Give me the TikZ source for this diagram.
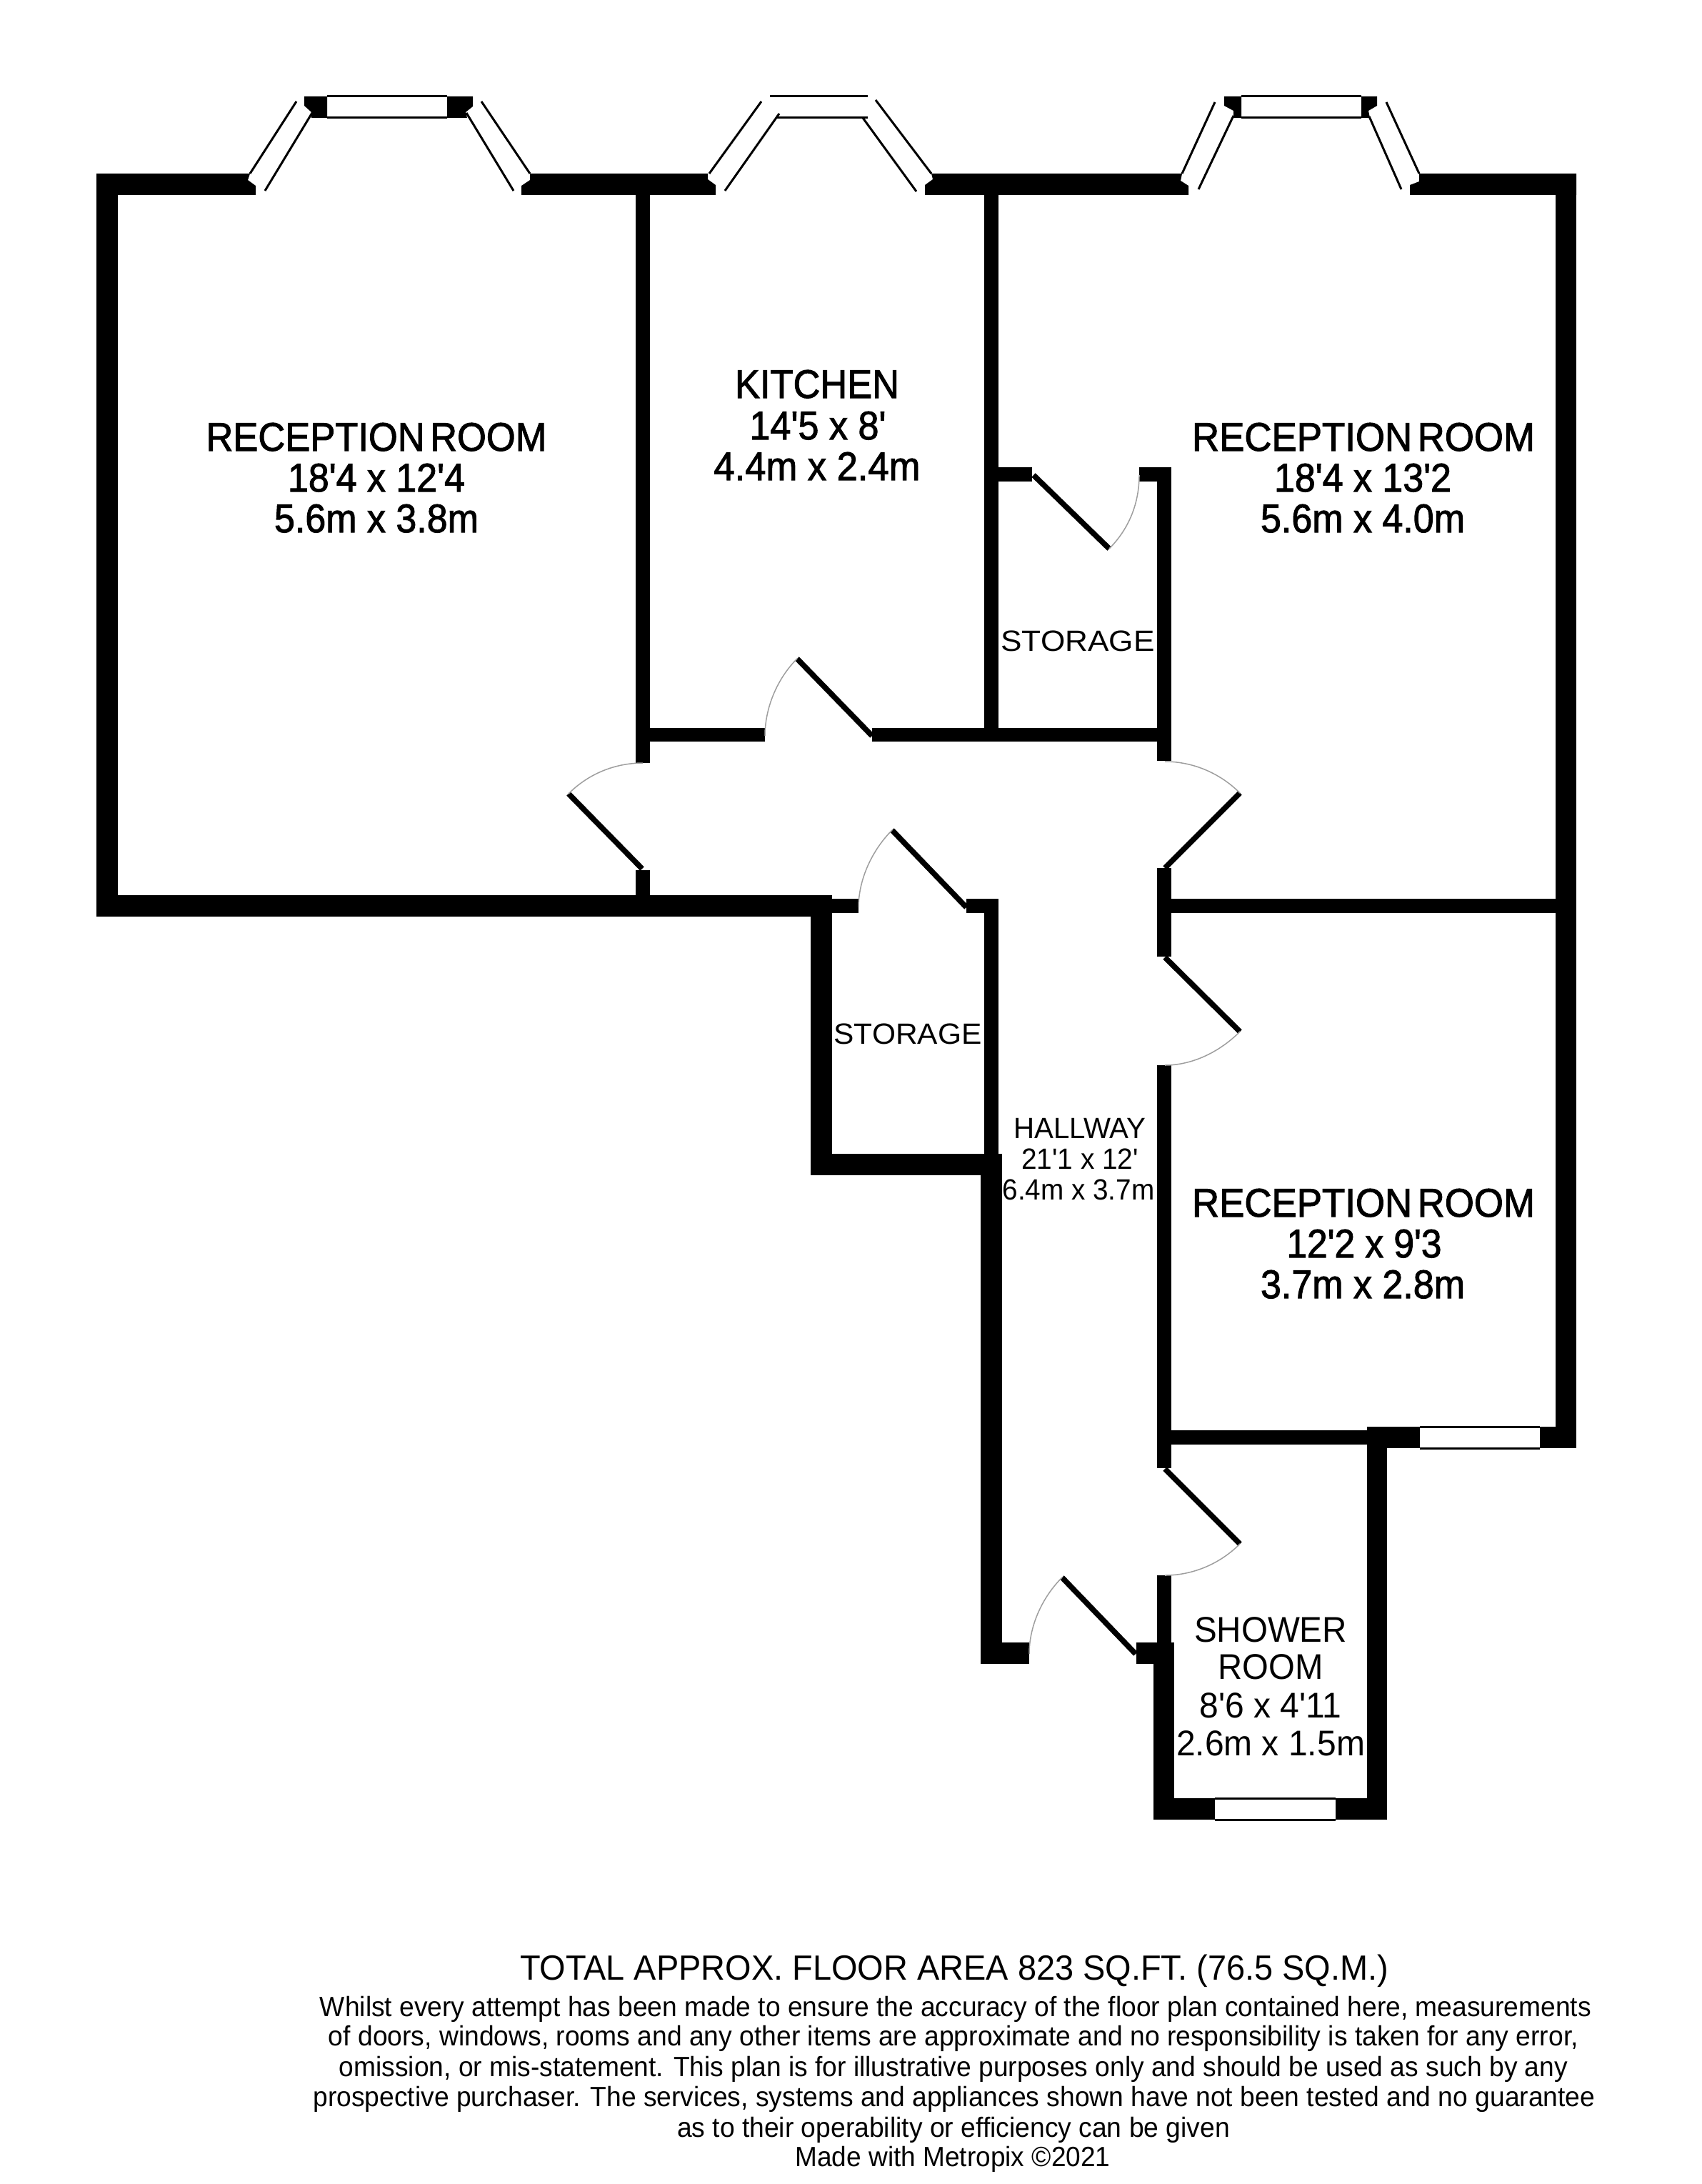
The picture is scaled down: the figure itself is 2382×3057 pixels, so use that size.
\documentclass[tikz,border=0pt]{standalone}
\usepackage{graphicx}
\usepackage{fontspec}
\setmainfont[Ligatures=TeXOff]{Liberation Sans}
\newfontfamily\heavyfont[Ligatures=TeXOff,FakeBold=1.8]{Liberation Sans}
\newdimen\pxu \pxu=0.3pt
\newcommand\fitw[2]{\resizebox{#1\pxu}{\height}{#2}}
\newcommand\recroom{RECEPTION\kern 2.4pt ROOM}
\tikzset{
  wall/.style={fill=black,draw=none},
  glass/.style={draw=black,line width=0.9pt,line cap=butt},
  leaf/.style={draw=black,line width=2.3pt,line cap=butt},
  swing/.style={draw=black!38,line width=0.45pt},
  lab/.style={anchor=base,inner sep=0pt,outer sep=0pt,text=black},
  lbig/.style={lab,font=\heavyfont\fontsize{16.8}{20}\selectfont},
  lmid/.style={lab,font=\fontsize{15}{18}\selectfont},
  lsmall/.style={lab,font=\fontsize{12.3}{15}\selectfont},
  ltitle/.style={lab,font=\fontsize{14.7}{18}\selectfont},
  lfoot/.style={lab,font=\fontsize{11.7}{14}\selectfont},
}
\begin{document}
\begin{tikzpicture}[x=0.3pt,y=-0.3pt]
\useasboundingbox (0,0) rectangle (2382,3057);
% outer and top walls
\fill[wall] (135,243) rectangle (165,1283);
\fill[wall] (135,243) -- (350,243) -- (347,252) -- (358,260) -- (358,273) -- (135,273) -- cycle;
\fill[wall] (742,243) -- (742,252) -- (730,260) -- (730,273) -- (1002,273) -- (1002,259) -- (991,251) -- (991,243) -- cycle;
\fill[wall] (1304,243) -- (1306,251) -- (1295,259) -- (1295,273) -- (1664,273) -- (1664,260) -- (1653,253) -- (1655,243) -- cycle;
\fill[wall] (1987,243) -- (1987,254) -- (1974,259) -- (1974,273) -- (2207,273) -- (2207,243) -- cycle;
\fill[wall] (2178,243) rectangle (2207,2027);
% kitchen and storage partitions
\fill[wall] (890,273) rectangle (910,1068);
\fill[wall] (890,1018.5) rectangle (1071,1038);
\fill[wall] (1221,1018.5) rectangle (1640,1038);
\fill[wall] (1378,273) rectangle (1398,1038);
\fill[wall] (1620,654) rectangle (1640,1065);
\fill[wall] (1378,654) rectangle (1445,674);
\fill[wall] (1595,654) rectangle (1640,674);
% lower wall of first reception room, storage 2
\fill[wall] (890,1217.5) rectangle (910,1253);
\fill[wall] (135,1253) rectangle (1165,1283);
\fill[wall] (1135,1253) rectangle (1165,1645);
\fill[wall] (1165,1258) rectangle (1202,1278);
\fill[wall] (1353,1258) rectangle (1398,1278);
\fill[wall] (1378,1258) rectangle (1398,1615);
\fill[wall] (1135,1615) rectangle (1403,1645);
% hallway
\fill[wall] (1373,1615) rectangle (1403,2329);
\fill[wall] (1373,2299) rectangle (1441,2329);
\fill[wall] (1591,2299) rectangle (1644,2329);
\fill[wall] (1620,1215) rectangle (1640,1339);
\fill[wall] (1620,1258) rectangle (2178,1278);
\fill[wall] (1620,1491) rectangle (1640,2055);
\fill[wall] (1620,2205) rectangle (1640,2299);
% shower room
\fill[wall] (1615,2299) rectangle (1644,2547);
\fill[wall] (1615,2517) rectangle (1701,2547);
\fill[wall] (1870,2517) rectangle (1942,2547);
\fill[wall] (1914,1997) rectangle (1942,2547);
\fill[wall] (1640,2002) rectangle (1914,2022);
\fill[wall] (1914,1997) rectangle (1988,2027);
\fill[wall] (2156,1997) rectangle (2207,2027);
% flat windows
\draw[glass] (1988,1997) -- (2156,1997) (1988,2027) -- (2156,2027);
\draw[glass] (1701,2517) -- (1870,2517) (1701,2547) -- (1870,2547);
% bay 1
\fill[wall] (426,135) -- (458,135) -- (458,165) -- (436,165) -- (436,157) -- (426,148) -- cycle;
\fill[wall] (626,135) -- (662,135) -- (662,149) -- (652,157) -- (654,165) -- (626,165) -- cycle;
\draw[glass] (458,135) -- (626,135) (458,165) -- (626,165);
\draw[glass] (350,243) -- (415,142) (371,267) -- (437,158);
\draw[glass] (674,142) -- (742,243) (653,158) -- (719,267);
% bay 2
\draw[glass] (1078,135) -- (1215,135) (1087,165) -- (1215,165);
\draw[glass] (993,243) -- (1066,142) (1015,267) -- (1091,159);
\draw[glass] (1226,140) -- (1304,243) (1208,165) -- (1283,268);
% bay 3
\fill[wall] (1714,135) -- (1738,135) -- (1738,165) -- (1727,165) -- (1727,155) -- (1714,148) -- cycle;
\fill[wall] (1906,135) -- (1928,135) -- (1928,148) -- (1916,155) -- (1918,165) -- (1906,165) -- cycle;
\draw[glass] (1738,135) -- (1906,135) (1738,165) -- (1906,165);
\draw[glass] (1655,243) -- (1701,143) (1678,265) -- (1727,162);
\draw[glass] (1941,143) -- (1987,243) (1917,163) -- (1962,265);
% doors
\draw[leaf] (1221,1030) -- (1116,922);
\draw[swing] (1116,922) .. controls (1088,950) and (1071,991) .. (1071,1030);
\draw[leaf] (899,1216) -- (796,1111);
\draw[swing] (796,1111) .. controls (824,1083) and (861,1068) .. (900,1068);
\draw[leaf] (1631,1215) -- (1736,1110);
\draw[swing] (1736,1110) .. controls (1708,1082) and (1670,1066) .. (1631,1066);
\draw[leaf] (1353,1270) -- (1249,1162);
\draw[swing] (1249,1162) .. controls (1221,1190) and (1202,1231) .. (1202,1270);
\draw[leaf] (1631,1340) -- (1736,1444);
\draw[swing] (1736,1444) .. controls (1708,1472) and (1670,1491) .. (1631,1491);
\draw[leaf] (1631,2056) -- (1736,2161);
\draw[swing] (1736,2161) .. controls (1708,2189) and (1670,2205) .. (1631,2205);
\draw[leaf] (1590,2315) -- (1487,2208);
\draw[swing] (1487,2208) .. controls (1459,2236) and (1441,2276) .. (1441,2315);
\draw[leaf] (1447,665) -- (1553,768);
\draw[swing] (1553,768) .. controls (1581,740) and (1595,704) .. (1595,665);
% room labels
\node (ra1) [lbig] at (527,631) {\fitw{477}{\recroom}};
\node (ra2) [lbig] at (527,688) {\fitw{248}{18'4 x 12'4}};
\node (ra3) [lbig] at (527,745) {\fitw{286}{5.6m x 3.8m}};
\node (ka1) [lbig] at (1144,557) {\fitw{230}{KITCHEN}};
\node (ka2) [lbig] at (1145,615) {\fitw{191}{14'5 x 8'}};
\node (ka3) [lbig] at (1144,672) {\fitw{289}{4.4m x 2.4m}};
\node (rb1) [lbig] at (1909,631) {\fitw{480}{\recroom}};
\node (rb2) [lbig] at (1908,688) {\fitw{248}{18'4 x 13'2}};
\node (rb3) [lbig] at (1908,745) {\fitw{286}{5.6m x 4.0m}};
\node (rc1) [lbig] at (1909,1703) {\fitw{480}{\recroom}};
\node (rc2) [lbig] at (1910,1760) {\fitw{217}{12'2 x 9'3}};
\node (rc3) [lbig] at (1908,1817) {\fitw{286}{3.7m x 2.8m}};
\node (st1) [lsmall] at (1509,911) {\fitw{215}{STORAGE}};
\node (st2) [lsmall] at (1271,1461) {\fitw{207}{STORAGE}};
\node (ha1) [lsmall] at (1512,1593) {\fitw{185}{HALLWAY}};
\node (ha2) [lsmall] at (1512,1636) {\fitw{164}{21'1 x 12'}};
\node (ha3) [lsmall] at (1510,1679) {\fitw{213}{6.4m x 3.7m}};
\node (sh1) [lmid] at (1779,2298) {\fitw{214}{SHOWER}};
\node (sh2) [lmid] at (1779,2350) {\fitw{147}{ROOM}};
\node (sh3) [lmid] at (1779,2404) {\fitw{199}{8'6 x 4'11}};
\node (sh4) [lmid] at (1779,2457) {\fitw{264}{2.6m x 1.5m}};
% footer
\node (ft0) [ltitle] at (1336,2771) {\fitw{1216}{TOTAL APPROX. FLOOR AREA 823 SQ.FT. (76.5 SQ.M.)}};
\node (ft1) [lfoot] at (1338,2822) {\fitw{1780}{Whilst every attempt has been made to ensure the accuracy of the floor plan contained here, measurements}};
\node (ft2) [lfoot] at (1335,2863) {\fitw{1750}{of doors, windows, rooms and any other items are approximate and no responsibility is taken for any error,}};
\node (ft3) [lfoot] at (1335,2906) {\fitw{1720}{omission, or mis-statement. This plan is for illustrative purposes only and should be used as such by any}};
\node (ft4) [lfoot] at (1336,2948) {\fitw{1795}{prospective purchaser. The services, systems and appliances shown have not been tested and no guarantee}};
\node (ft5) [lfoot] at (1335,2991) {\fitw{774}{as to their operability or efficiency can be given}};
\node (ft6) [lfoot] at (1334,3032) {\fitw{441}{Made with Metropix ©2021}};
\end{tikzpicture}
\end{document}
